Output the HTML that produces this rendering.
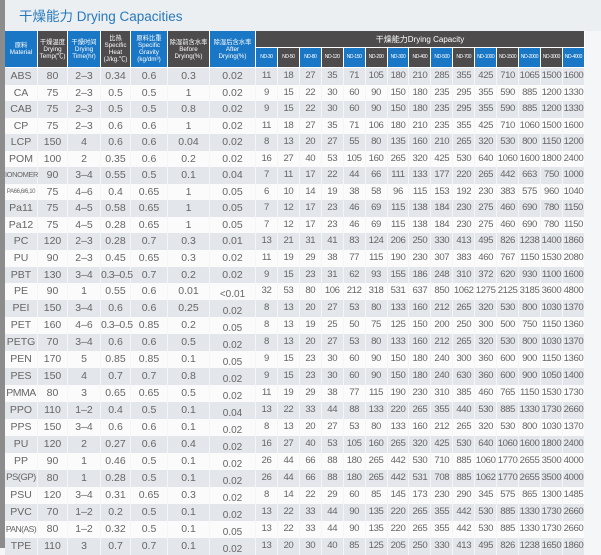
<!DOCTYPE html>
<html><head><meta charset="utf-8"><style>
html,body{margin:0;padding:0}
body{width:601px;height:548px;overflow:hidden;background:#f5f6f8;position:relative;font-family:"Liberation Sans","Noto Sans CJK SC",sans-serif}
.top{position:absolute;left:0;top:0;width:601px;height:31px;background:#eceff2}
.strip{position:absolute;left:0;top:0;width:5px;height:548px;background:#8c8c8c}
.title{position:absolute;left:19px;top:5px;font-size:13.5px;color:#2779bd;white-space:nowrap}
table{position:absolute;left:5px;top:31px;width:580px;border-collapse:separate;border-spacing:0;table-layout:fixed}
td{padding:0;text-align:center;color:#666;font-size:10.5px;white-space:nowrap;overflow:visible;border-right:1px solid #f4f5f7;height:16.55px;line-height:16.55px}
td.n{font-size:9.6px;letter-spacing:-0.4px}
th{padding:0;color:#fff;font-weight:normal;font-size:6.3px;line-height:7px;border-right:1px solid #fff;border-bottom:1px solid #fff;overflow:hidden;white-space:nowrap}
th.s{font-size:5px;letter-spacing:-0.4px}
.b{background:#1a77c5}.g{background:#4d4b4b}
tr.h1 th{height:16px}
tr.h2 th{height:19px}
tr.h1 th.cap{font-size:8px;background:#4d4b4b}
tr:nth-child(odd).r td{background:#fbfbfc}
tr:nth-child(even).r td{background:#e3e6ea}
td.lo{line-height:normal;padding-top:6px;height:10.55px;font-size:10px}
.sm{font-size:6px}
</style></head><body>
<div class="top"></div>
<div class="strip"></div>
<div class="title">干燥能力 Drying Capacities</div>
<table>
<colgroup><col style="width:33px"><col style="width:30px"><col style="width:33px"><col style="width:30px"><col style="width:37px"><col style="width:42px"><col style="width:46px">
<col style="width:21.93px"><col style="width:21.93px"><col style="width:21.93px"><col style="width:21.93px"><col style="width:21.93px"><col style="width:21.93px"><col style="width:21.93px"><col style="width:21.93px"><col style="width:21.93px"><col style="width:21.93px"><col style="width:21.93px"><col style="width:21.93px"><col style="width:21.93px"><col style="width:21.93px"><col style="width:21.93px"></colgroup>
<tr class="h1"><th class="b" rowspan="2">原料<br>Material</th><th class="g" rowspan="2">干燥温度<br>Drying<br>Temp(℃)</th><th class="b" rowspan="2">干燥时间<br>Drying<br>Time(hr)</th><th class="g" rowspan="2">比热<br>Specific<br>Heat<br>(J/kg.℃)</th><th class="b" rowspan="2">原料比重<br>Specific<br>Gravity<br>(kg/dm³)</th><th class="g" rowspan="2">除湿前含水率<br>Before<br>Drying(%)</th><th class="b" rowspan="2">除湿后含水率<br>After<br>Drying(%)</th><th class="cap" colspan="15">干燥能力Drying Capacity</th></tr>
<tr class="h2"><th class="b s">ND-30</th><th class="g s">ND-50</th><th class="b s">ND-80</th><th class="g s">ND-120</th><th class="b s">ND-150</th><th class="g s">ND-200</th><th class="b s">ND-300</th><th class="g s">ND-400</th><th class="b s">ND-500</th><th class="g s">ND-700</th><th class="b s">ND-1000</th><th class="g s">ND-1500</th><th class="b s">ND-2000</th><th class="g s">ND-3000</th><th class="b s">ND-4000</th></tr>
<tr><td colspan="22" style="height:0;border:0;line-height:0"></td></tr>
<tr class="r"><td>ABS</td><td>80</td><td>2–3</td><td>0.34</td><td>0.6</td><td>0.3</td><td>0.02</td><td class="n">11</td><td class="n">18</td><td class="n">27</td><td class="n">35</td><td class="n">71</td><td class="n">105</td><td class="n">180</td><td class="n">210</td><td class="n">285</td><td class="n">355</td><td class="n">425</td><td class="n">710</td><td class="n">1065</td><td class="n">1500</td><td class="n">1600</td></tr>
<tr class="r"><td>CA</td><td>75</td><td>2–3</td><td>0.5</td><td>0.5</td><td>1</td><td>0.02</td><td class="n">9</td><td class="n">15</td><td class="n">22</td><td class="n">30</td><td class="n">60</td><td class="n">90</td><td class="n">150</td><td class="n">180</td><td class="n">235</td><td class="n">295</td><td class="n">355</td><td class="n">590</td><td class="n">885</td><td class="n">1200</td><td class="n">1330</td></tr>
<tr class="r"><td>CAB</td><td>75</td><td>2–3</td><td>0.5</td><td>0.5</td><td>0.8</td><td>0.02</td><td class="n">9</td><td class="n">15</td><td class="n">22</td><td class="n">30</td><td class="n">60</td><td class="n">90</td><td class="n">150</td><td class="n">180</td><td class="n">235</td><td class="n">295</td><td class="n">355</td><td class="n">590</td><td class="n">885</td><td class="n">1200</td><td class="n">1330</td></tr>
<tr class="r"><td>CP</td><td>75</td><td>2–3</td><td>0.6</td><td>0.6</td><td>1</td><td>0.02</td><td class="n">11</td><td class="n">18</td><td class="n">27</td><td class="n">35</td><td class="n">71</td><td class="n">106</td><td class="n">180</td><td class="n">210</td><td class="n">235</td><td class="n">355</td><td class="n">425</td><td class="n">710</td><td class="n">1060</td><td class="n">1500</td><td class="n">1600</td></tr>
<tr class="r"><td>LCP</td><td>150</td><td>4</td><td>0.6</td><td>0.6</td><td>0.04</td><td>0.02</td><td class="n">8</td><td class="n">13</td><td class="n">20</td><td class="n">27</td><td class="n">55</td><td class="n">80</td><td class="n">135</td><td class="n">160</td><td class="n">210</td><td class="n">265</td><td class="n">320</td><td class="n">530</td><td class="n">800</td><td class="n">1150</td><td class="n">1200</td></tr>
<tr class="r"><td>POM</td><td>100</td><td>2</td><td>0.35</td><td>0.6</td><td>0.2</td><td>0.02</td><td class="n">16</td><td class="n">27</td><td class="n">40</td><td class="n">53</td><td class="n">105</td><td class="n">160</td><td class="n">265</td><td class="n">320</td><td class="n">425</td><td class="n">530</td><td class="n">640</td><td class="n">1060</td><td class="n">1600</td><td class="n">1800</td><td class="n">2400</td></tr>
<tr class="r"><td style="font-size:7.5px;letter-spacing:-0.4px">IONOMER</td><td>90</td><td>3–4</td><td>0.55</td><td>0.5</td><td>0.1</td><td>0.04</td><td class="n">7</td><td class="n">11</td><td class="n">17</td><td class="n">22</td><td class="n">44</td><td class="n">66</td><td class="n">111</td><td class="n">133</td><td class="n">177</td><td class="n">220</td><td class="n">265</td><td class="n">442</td><td class="n">663</td><td class="n">750</td><td class="n">1000</td></tr>
<tr class="r"><td class="sm" style="letter-spacing:-0.4px">PA66,6/6,10</td><td>75</td><td>4–6</td><td>0.4</td><td>0.65</td><td>1</td><td>0.05</td><td class="n">6</td><td class="n">10</td><td class="n">14</td><td class="n">19</td><td class="n">38</td><td class="n">58</td><td class="n">96</td><td class="n">115</td><td class="n">153</td><td class="n">192</td><td class="n">230</td><td class="n">383</td><td class="n">575</td><td class="n">960</td><td class="n">1040</td></tr>
<tr class="r"><td>Pa11</td><td>75</td><td>4–5</td><td>0.58</td><td>0.65</td><td>1</td><td>0.05</td><td class="n">7</td><td class="n">12</td><td class="n">17</td><td class="n">23</td><td class="n">46</td><td class="n">69</td><td class="n">115</td><td class="n">138</td><td class="n">184</td><td class="n">230</td><td class="n">275</td><td class="n">460</td><td class="n">690</td><td class="n">780</td><td class="n">1150</td></tr>
<tr class="r"><td>Pa12</td><td>75</td><td>4–5</td><td>0.28</td><td>0.65</td><td>1</td><td>0.05</td><td class="n">7</td><td class="n">12</td><td class="n">17</td><td class="n">23</td><td class="n">46</td><td class="n">69</td><td class="n">115</td><td class="n">138</td><td class="n">184</td><td class="n">230</td><td class="n">275</td><td class="n">460</td><td class="n">690</td><td class="n">780</td><td class="n">1150</td></tr>
<tr class="r"><td>PC</td><td>120</td><td>2–3</td><td>0.28</td><td>0.7</td><td>0.3</td><td>0.01</td><td class="n">13</td><td class="n">21</td><td class="n">31</td><td class="n">41</td><td class="n">83</td><td class="n">124</td><td class="n">206</td><td class="n">250</td><td class="n">330</td><td class="n">413</td><td class="n">495</td><td class="n">826</td><td class="n">1238</td><td class="n">1400</td><td class="n">1860</td></tr>
<tr class="r"><td>PU</td><td>90</td><td>2–3</td><td>0.45</td><td>0.65</td><td>0.3</td><td>0.02</td><td class="n">11</td><td class="n">19</td><td class="n">29</td><td class="n">38</td><td class="n">77</td><td class="n">115</td><td class="n">190</td><td class="n">230</td><td class="n">307</td><td class="n">383</td><td class="n">460</td><td class="n">767</td><td class="n">1150</td><td class="n">1530</td><td class="n">2080</td></tr>
<tr class="r"><td>PBT</td><td>130</td><td>3–4</td><td style="letter-spacing:-0.5px">0.3–0.5</td><td>0.7</td><td>0.2</td><td>0.02</td><td class="n">9</td><td class="n">15</td><td class="n">23</td><td class="n">31</td><td class="n">62</td><td class="n">93</td><td class="n">155</td><td class="n">186</td><td class="n">248</td><td class="n">310</td><td class="n">372</td><td class="n">620</td><td class="n">930</td><td class="n">1100</td><td class="n">1600</td></tr>
<tr class="r"><td>PE</td><td>90</td><td>1</td><td>0.55</td><td>0.6</td><td>0.01</td><td class="lo">&lt;0.01</td><td class="n">32</td><td class="n">53</td><td class="n">80</td><td class="n">106</td><td class="n">212</td><td class="n">318</td><td class="n">531</td><td class="n">637</td><td class="n">850</td><td class="n">1062</td><td class="n">1275</td><td class="n">2125</td><td class="n">3185</td><td class="n">3600</td><td class="n">4800</td></tr>
<tr class="r"><td>PEI</td><td>150</td><td>3–4</td><td>0.6</td><td>0.6</td><td>0.25</td><td class="lo">0.02</td><td class="n">8</td><td class="n">13</td><td class="n">20</td><td class="n">27</td><td class="n">53</td><td class="n">80</td><td class="n">133</td><td class="n">160</td><td class="n">212</td><td class="n">265</td><td class="n">320</td><td class="n">530</td><td class="n">800</td><td class="n">1030</td><td class="n">1370</td></tr>
<tr class="r"><td>PET</td><td>160</td><td>4–6</td><td style="letter-spacing:-0.5px">0.3–0.5</td><td>0.85</td><td>0.2</td><td class="lo">0.05</td><td class="n">8</td><td class="n">13</td><td class="n">19</td><td class="n">25</td><td class="n">50</td><td class="n">75</td><td class="n">125</td><td class="n">150</td><td class="n">200</td><td class="n">250</td><td class="n">300</td><td class="n">500</td><td class="n">750</td><td class="n">1150</td><td class="n">1360</td></tr>
<tr class="r"><td>PETG</td><td>70</td><td>3–4</td><td>0.6</td><td>0.6</td><td>0.5</td><td class="lo">0.02</td><td class="n">8</td><td class="n">13</td><td class="n">20</td><td class="n">27</td><td class="n">53</td><td class="n">80</td><td class="n">133</td><td class="n">160</td><td class="n">212</td><td class="n">265</td><td class="n">320</td><td class="n">530</td><td class="n">800</td><td class="n">1030</td><td class="n">1370</td></tr>
<tr class="r"><td>PEN</td><td>170</td><td>5</td><td>0.85</td><td>0.85</td><td>0.1</td><td class="lo">0.05</td><td class="n">9</td><td class="n">15</td><td class="n">23</td><td class="n">30</td><td class="n">60</td><td class="n">90</td><td class="n">150</td><td class="n">180</td><td class="n">240</td><td class="n">300</td><td class="n">360</td><td class="n">600</td><td class="n">900</td><td class="n">1150</td><td class="n">1360</td></tr>
<tr class="r"><td>PES</td><td>150</td><td>4</td><td>0.7</td><td>0.7</td><td>0.8</td><td class="lo">0.02</td><td class="n">9</td><td class="n">15</td><td class="n">23</td><td class="n">30</td><td class="n">60</td><td class="n">90</td><td class="n">150</td><td class="n">180</td><td class="n">240</td><td class="n">630</td><td class="n">360</td><td class="n">600</td><td class="n">900</td><td class="n">1050</td><td class="n">1400</td></tr>
<tr class="r"><td style="letter-spacing:-0.5px">PMMA</td><td>80</td><td>3</td><td>0.65</td><td>0.65</td><td>0.5</td><td class="lo">0.02</td><td class="n">11</td><td class="n">19</td><td class="n">29</td><td class="n">38</td><td class="n">77</td><td class="n">115</td><td class="n">190</td><td class="n">230</td><td class="n">310</td><td class="n">385</td><td class="n">460</td><td class="n">765</td><td class="n">1150</td><td class="n">1530</td><td class="n">1730</td></tr>
<tr class="r"><td>PPO</td><td>110</td><td>1–2</td><td>0.4</td><td>0.5</td><td>0.1</td><td class="lo">0.04</td><td class="n">13</td><td class="n">22</td><td class="n">33</td><td class="n">44</td><td class="n">88</td><td class="n">133</td><td class="n">220</td><td class="n">265</td><td class="n">355</td><td class="n">440</td><td class="n">530</td><td class="n">885</td><td class="n">1330</td><td class="n">1730</td><td class="n">2660</td></tr>
<tr class="r"><td>PPS</td><td>150</td><td>3–4</td><td>0.6</td><td>0.6</td><td>0.1</td><td class="lo">0.02</td><td class="n">8</td><td class="n">13</td><td class="n">20</td><td class="n">27</td><td class="n">53</td><td class="n">80</td><td class="n">133</td><td class="n">160</td><td class="n">212</td><td class="n">265</td><td class="n">320</td><td class="n">530</td><td class="n">800</td><td class="n">1030</td><td class="n">1370</td></tr>
<tr class="r"><td>PU</td><td>120</td><td>2</td><td>0.27</td><td>0.6</td><td>0.4</td><td class="lo">0.02</td><td class="n">16</td><td class="n">27</td><td class="n">40</td><td class="n">53</td><td class="n">105</td><td class="n">160</td><td class="n">265</td><td class="n">320</td><td class="n">425</td><td class="n">530</td><td class="n">640</td><td class="n">1060</td><td class="n">1600</td><td class="n">1800</td><td class="n">2400</td></tr>
<tr class="r"><td>PP</td><td>90</td><td>1</td><td>0.46</td><td>0.5</td><td>0.1</td><td class="lo">0.02</td><td class="n">26</td><td class="n">44</td><td class="n">66</td><td class="n">88</td><td class="n">180</td><td class="n">265</td><td class="n">442</td><td class="n">530</td><td class="n">710</td><td class="n">885</td><td class="n">1060</td><td class="n">1770</td><td class="n">2655</td><td class="n">3500</td><td class="n">4000</td></tr>
<tr class="r"><td style="font-size:9.5px;letter-spacing:-0.5px">PS(GP)</td><td>80</td><td>1</td><td>0.28</td><td>0.5</td><td>0.1</td><td class="lo">0.02</td><td class="n">26</td><td class="n">44</td><td class="n">66</td><td class="n">88</td><td class="n">180</td><td class="n">265</td><td class="n">442</td><td class="n">531</td><td class="n">708</td><td class="n">885</td><td class="n">1062</td><td class="n">1770</td><td class="n">2655</td><td class="n">3500</td><td class="n">4000</td></tr>
<tr class="r"><td>PSU</td><td>120</td><td>3–4</td><td>0.31</td><td>0.65</td><td>0.3</td><td class="lo">0.02</td><td class="n">8</td><td class="n">14</td><td class="n">22</td><td class="n">29</td><td class="n">60</td><td class="n">85</td><td class="n">145</td><td class="n">173</td><td class="n">230</td><td class="n">290</td><td class="n">345</td><td class="n">575</td><td class="n">865</td><td class="n">1300</td><td class="n">1485</td></tr>
<tr class="r"><td>PVC</td><td>70</td><td>1–2</td><td>0.2</td><td>0.5</td><td>0.1</td><td class="lo">0.02</td><td class="n">13</td><td class="n">22</td><td class="n">33</td><td class="n">44</td><td class="n">90</td><td class="n">135</td><td class="n">220</td><td class="n">265</td><td class="n">355</td><td class="n">442</td><td class="n">530</td><td class="n">885</td><td class="n">1330</td><td class="n">1730</td><td class="n">2660</td></tr>
<tr class="r"><td style="font-size:8.5px;letter-spacing:-0.5px">PAN(AS)</td><td>80</td><td>1–2</td><td>0.32</td><td>0.5</td><td>0.1</td><td class="lo">0.05</td><td class="n">13</td><td class="n">22</td><td class="n">33</td><td class="n">44</td><td class="n">90</td><td class="n">135</td><td class="n">220</td><td class="n">265</td><td class="n">355</td><td class="n">442</td><td class="n">530</td><td class="n">885</td><td class="n">1330</td><td class="n">1730</td><td class="n">2660</td></tr>
<tr class="r"><td>TPE</td><td>110</td><td>3</td><td>0.7</td><td>0.7</td><td>0.1</td><td class="lo">0.02</td><td class="n">13</td><td class="n">20</td><td class="n">30</td><td class="n">40</td><td class="n">85</td><td class="n">125</td><td class="n">205</td><td class="n">250</td><td class="n">330</td><td class="n">413</td><td class="n">495</td><td class="n">826</td><td class="n">1238</td><td class="n">1650</td><td class="n">1860</td></tr>
</table>
</body></html>
